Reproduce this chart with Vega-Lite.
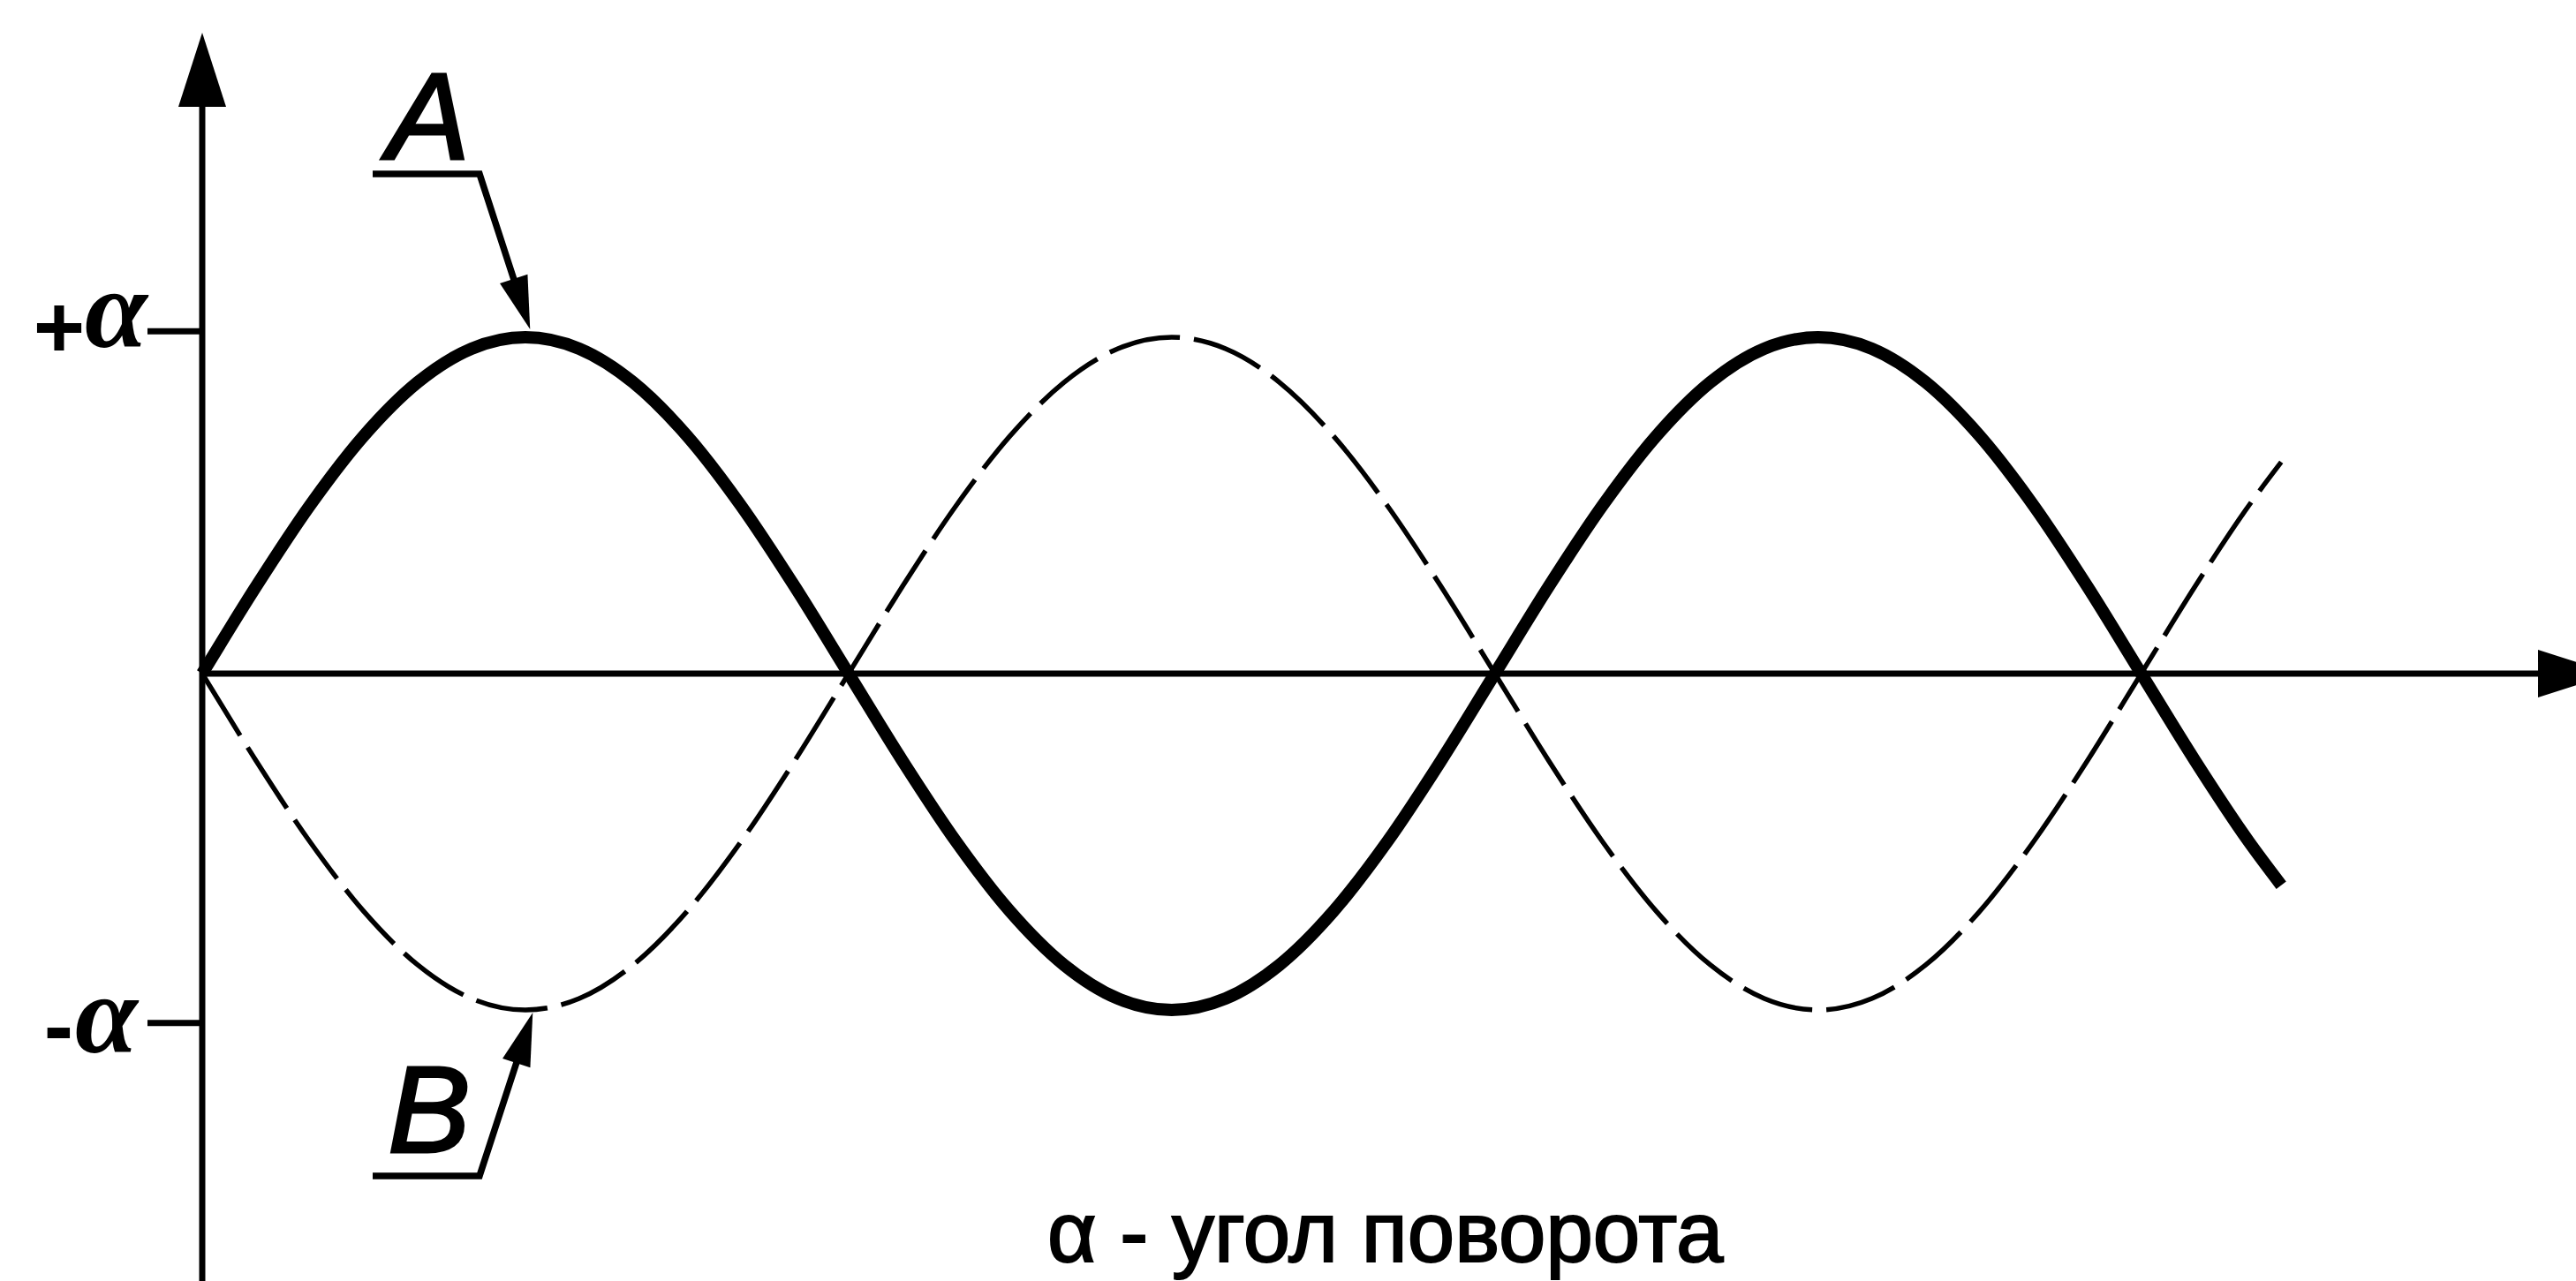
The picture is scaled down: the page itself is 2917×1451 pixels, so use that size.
{
  "$schema": "https://vega.github.io/schema/vega-lite/v6.json",
  "width": 2917,
  "height": 1451,
  "padding": 0,
  "autosize": {"type": "none"},
  "background": "white",
  "config": {"view": {"stroke": null}},
  "datasets": {
    "curve": [
      {"x": 0, "y": 0, "c": "A"}, {"x": 15, "y": 0.259, "c": "A"}, {"x": 30, "y": 0.5, "c": "A"}, {"x": 45, "y": 0.707, "c": "A"},
      {"x": 60, "y": 0.866, "c": "A"}, {"x": 75, "y": 0.966, "c": "A"}, {"x": 90, "y": 1, "c": "A"}, {"x": 105, "y": 0.966, "c": "A"},
      {"x": 120, "y": 0.866, "c": "A"}, {"x": 135, "y": 0.707, "c": "A"}, {"x": 150, "y": 0.5, "c": "A"}, {"x": 165, "y": 0.259, "c": "A"},
      {"x": 180, "y": 0, "c": "A"}, {"x": 195, "y": -0.259, "c": "A"}, {"x": 210, "y": -0.5, "c": "A"}, {"x": 225, "y": -0.707, "c": "A"},
      {"x": 240, "y": -0.866, "c": "A"}, {"x": 255, "y": -0.966, "c": "A"}, {"x": 270, "y": -1, "c": "A"}, {"x": 285, "y": -0.966, "c": "A"},
      {"x": 300, "y": -0.866, "c": "A"}, {"x": 315, "y": -0.707, "c": "A"}, {"x": 330, "y": -0.5, "c": "A"}, {"x": 345, "y": -0.259, "c": "A"},
      {"x": 360, "y": 0, "c": "A"}, {"x": 375, "y": 0.259, "c": "A"}, {"x": 390, "y": 0.5, "c": "A"}, {"x": 405, "y": 0.707, "c": "A"},
      {"x": 420, "y": 0.866, "c": "A"}, {"x": 435, "y": 0.966, "c": "A"}, {"x": 450, "y": 1, "c": "A"}, {"x": 465, "y": 0.966, "c": "A"},
      {"x": 480, "y": 0.866, "c": "A"}, {"x": 495, "y": 0.707, "c": "A"}, {"x": 510, "y": 0.5, "c": "A"}, {"x": 525, "y": 0.259, "c": "A"},
      {"x": 540, "y": 0, "c": "A"}, {"x": 555, "y": -0.259, "c": "A"}, {"x": 570, "y": -0.5, "c": "A"}, {"x": 579, "y": -0.629, "c": "A"},
      {"x": 0, "y": 0, "c": "B"}, {"x": 15, "y": -0.259, "c": "B"}, {"x": 30, "y": -0.5, "c": "B"}, {"x": 45, "y": -0.707, "c": "B"},
      {"x": 60, "y": -0.866, "c": "B"}, {"x": 75, "y": -0.966, "c": "B"}, {"x": 90, "y": -1, "c": "B"}, {"x": 105, "y": -0.966, "c": "B"},
      {"x": 120, "y": -0.866, "c": "B"}, {"x": 135, "y": -0.707, "c": "B"}, {"x": 150, "y": -0.5, "c": "B"}, {"x": 165, "y": -0.259, "c": "B"},
      {"x": 180, "y": 0, "c": "B"}, {"x": 195, "y": 0.259, "c": "B"}, {"x": 210, "y": 0.5, "c": "B"}, {"x": 225, "y": 0.707, "c": "B"},
      {"x": 240, "y": 0.866, "c": "B"}, {"x": 255, "y": 0.966, "c": "B"}, {"x": 270, "y": 1, "c": "B"}, {"x": 285, "y": 0.966, "c": "B"},
      {"x": 300, "y": 0.866, "c": "B"}, {"x": 315, "y": 0.707, "c": "B"}, {"x": 330, "y": 0.5, "c": "B"}, {"x": 345, "y": 0.259, "c": "B"},
      {"x": 360, "y": 0, "c": "B"}, {"x": 375, "y": -0.259, "c": "B"}, {"x": 390, "y": -0.5, "c": "B"}, {"x": 405, "y": -0.707, "c": "B"},
      {"x": 420, "y": -0.866, "c": "B"}, {"x": 435, "y": -0.966, "c": "B"}, {"x": 450, "y": -1, "c": "B"}, {"x": 465, "y": -0.966, "c": "B"},
      {"x": 480, "y": -0.866, "c": "B"}, {"x": 495, "y": -0.707, "c": "B"}, {"x": 510, "y": -0.5, "c": "B"}, {"x": 525, "y": -0.259, "c": "B"},
      {"x": 540, "y": 0, "c": "B"}, {"x": 555, "y": 0.259, "c": "B"}, {"x": 570, "y": 0.5, "c": "B"}, {"x": 579, "y": 0.629, "c": "B"}
    ],
    "axes": [
      {"x": 0, "y": -1.81, "x2": 0, "y2": 1.74},
      {"x": 0, "y": 0, "x2": 654.4, "y2": 0},
      {"x": -15.25, "y": 1.018, "x2": 0, "y2": 1.018},
      {"x": -15.25, "y": -1.039, "x2": 0, "y2": -1.039}
    ],
    "leaders": [
      {"id": "A", "o": 1, "x": 47.47, "y": 1.4856},
      {"id": "A", "o": 2, "x": 77.23, "y": 1.4856},
      {"id": "A", "o": 3, "x": 89.03, "y": 1.0984},
      {"id": "B", "o": 1, "x": 47.47, "y": -1.4934},
      {"id": "B", "o": 2, "x": 77.23, "y": -1.4934},
      {"id": "B", "o": 3, "x": 89.77, "y": -1.0829}
    ],
    "heads": [
      {"k": "top", "x": 0, "y": 1.7953},
      {"k": "right", "x": 660.85, "y": 0},
      {"k": "A", "x": 89.03, "y": 1.0984},
      {"k": "B", "x": 89.77, "y": -1.0829}
    ],
    "signs": [
      {"t": "+", "x": -39.84, "y": 0.9396},
      {"t": "-", "x": -39.97, "y": -1.1365}
    ],
    "alphas": [
      {"t": "α", "x": -23.98, "y": 0.9711},
      {"t": "α", "x": -26.69, "y": -1.126}
    ],
    "letters": [
      {"t": "A", "x": 63.0, "y": 1.5302},
      {"t": "B", "x": 63.2, "y": -1.4226}
    ],
    "title": [
      {"t": "α - угол поворота", "x": 329.5, "y": -1.748}
    ]
  },
  "encoding": {
    "x": {"field": "x", "type": "quantitative", "scale": {"domain": [-56.32, 661.09], "nice": false, "zero": false}, "axis": null},
    "y": {"field": "y", "type": "quantitative", "scale": {"domain": [-1.8058, 2.0026], "nice": false, "zero": false}, "axis": null}
  },
  "layer": [
    {
      "data": {"name": "axes"},
      "mark": {"type": "rule", "color": "black", "strokeWidth": 7},
      "encoding": {"x2": {"field": "x2"}, "y2": {"field": "y2"}}
    },
    {
      "data": {"name": "curve"},
      "transform": [{"filter": "datum.c === 'B'"}],
      "mark": {"type": "line", "color": "black", "strokeWidth": 5.5, "strokeDash": [82, 16], "interpolate": "monotone", "strokeCap": "butt"},
      "encoding": {}
    },
    {
      "data": {"name": "curve"},
      "transform": [{"filter": "datum.c === 'A'"}],
      "mark": {"type": "line", "color": "black", "strokeWidth": 14, "interpolate": "monotone", "strokeCap": "butt"},
      "encoding": {}
    },
    {
      "data": {"name": "leaders"},
      "mark": {"type": "line", "color": "black", "strokeWidth": 7.5, "strokeJoin": "miter", "strokeCap": "butt"},
      "encoding": {"detail": {"field": "id"}, "order": {"field": "o"}}
    },
    {
      "data": {"name": "heads"},
      "transform": [{"filter": "datum.k === 'top'"}],
      "mark": {"type": "point", "shape": "M0,-1L0.643,1L-0.643,1Z", "size": 7056, "filled": true, "color": "black", "opacity": 1, "strokeWidth": 0},
      "encoding": {}
    },
    {
      "data": {"name": "heads"},
      "transform": [{"filter": "datum.k === 'right'"}],
      "mark": {"type": "point", "shape": "M1,0L-1,-0.643L-1,0.643Z", "size": 7056, "filled": true, "color": "black", "opacity": 1, "strokeWidth": 0},
      "encoding": {}
    },
    {
      "data": {"name": "heads"},
      "transform": [{"filter": "datum.k === 'A'"}],
      "mark": {"type": "point", "shape": "M0,-1L0.55,1L-0.55,1Z", "size": 3600, "angle": 162, "filled": true, "color": "black", "opacity": 1, "strokeWidth": 0},
      "encoding": {}
    },
    {
      "data": {"name": "heads"},
      "transform": [{"filter": "datum.k === 'B'"}],
      "mark": {"type": "point", "shape": "M0,-1L0.55,1L-0.55,1Z", "size": 3600, "angle": 18, "filled": true, "color": "black", "opacity": 1, "strokeWidth": 0},
      "encoding": {}
    },
    {
      "data": {"name": "signs"},
      "mark": {"type": "text", "font": "Liberation Sans", "fontWeight": "bold", "fontSize": 100, "align": "center", "baseline": "alphabetic", "color": "black"},
      "encoding": {"text": {"field": "t"}}
    },
    {
      "data": {"name": "alphas"},
      "mark": {"type": "text", "font": "Liberation Serif", "fontStyle": "italic", "fontWeight": "bold", "fontSize": 128, "align": "center", "baseline": "alphabetic", "color": "black"},
      "encoding": {"text": {"field": "t"}}
    },
    {
      "data": {"name": "letters"},
      "mark": {"type": "text", "font": "Liberation Sans", "fontStyle": "italic", "fontSize": 140, "align": "center", "baseline": "alphabetic", "color": "black", "stroke": "black", "strokeWidth": 3},
      "encoding": {"text": {"field": "t"}}
    },
    {
      "data": {"name": "title"},
      "mark": {"type": "text", "font": "Liberation Sans", "fontSize": 96, "align": "center", "baseline": "alphabetic", "color": "black", "stroke": "black", "strokeWidth": 2},
      "encoding": {"text": {"field": "t"}}
    }
  ]
}
